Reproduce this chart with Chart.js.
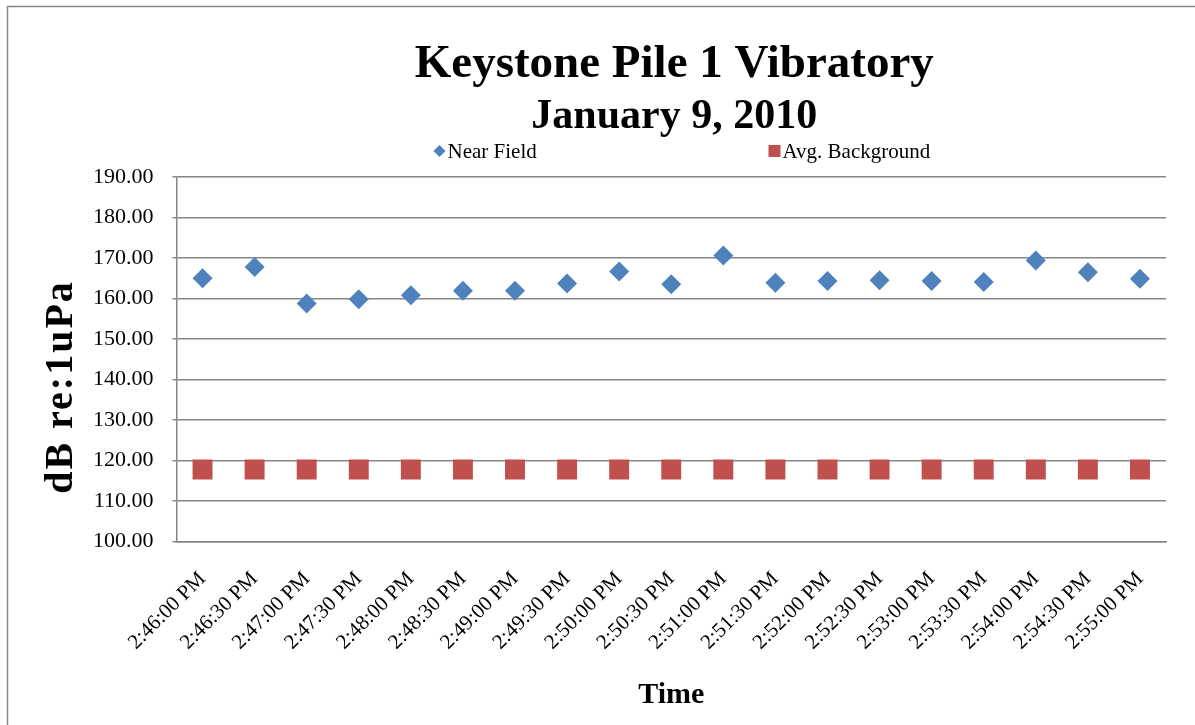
<!DOCTYPE html>
<html>
<head>
<meta charset="utf-8">
<title>Keystone Pile 1 Vibratory</title>
<script src="https://cdn.jsdelivr.net/npm/chart.js@4.4.1/dist/chart.umd.min.js"></script>
<style>
  html, body { margin: 0; padding: 0; background: #fff; }
  .chart-wrap { position: relative; width: 1195px; height: 725px; }
</style>
</head>
<body>
<div class="chart-wrap">
  <canvas id="js-vibration-chart"></canvas>
</div>
<script>
const timeLabels = ['2:46:00 PM', '2:46:30 PM', '2:47:00 PM', '2:47:30 PM', '2:48:00 PM', '2:48:30 PM', '2:49:00 PM', '2:49:30 PM', '2:50:00 PM', '2:50:30 PM', '2:51:00 PM', '2:51:30 PM', '2:52:00 PM', '2:52:30 PM', '2:53:00 PM', '2:53:30 PM', '2:54:00 PM', '2:54:30 PM', '2:55:00 PM'];
const nearField = [165.0, 167.8, 158.8, 159.8, 160.8, 161.9, 161.9, 163.7, 166.7, 163.5, 170.6, 163.9, 164.3, 164.5, 164.3, 164.1, 169.4, 166.5, 164.9];
const avgBackground = [117.8, 117.8, 117.8, 117.8, 117.8, 117.8, 117.8, 117.8, 117.8, 117.8, 117.8, 117.8, 117.8, 117.8, 117.8, 117.8, 117.8, 117.8, 117.8];
const chartTitle = 'Keystone Pile 1 Vibratory';
const chartSubtitle = 'January 9, 2010';
const yAxisTitle = 'dB re:1uPa';

const serif = "'Liberation Serif', 'Times New Roman', serif";
const gridGray = '#868686';
const blue = '#4f81bd';
const red = '#c0504d';

const vibrationCanvas = document.querySelector('#js-vibration-chart');

// frame, titles, y title and legend are drawn by hand, Excel style
const excelLook = {
  id: 'excelLook',
  beforeDraw(chart) {
    const ctx = chart.ctx;
    ctx.save();
    ctx.strokeStyle = gridGray;
    ctx.lineWidth = 1.5;
    ctx.beginPath();
    ctx.moveTo(7.5, chart.height);
    ctx.lineTo(7.5, 6.5);
    ctx.lineTo(chart.width, 6.5);
    ctx.stroke();
    ctx.restore();
  },
  afterDraw(chart) {
    const ctx = chart.ctx;
    const area = chart.chartArea;
    const centerX = (area.left + area.right) / 2 + 3;

    ctx.save();
    ctx.fillStyle = '#000';
    ctx.textAlign = 'center';
    ctx.textBaseline = 'alphabetic';
    ctx.font = 'bold 47px ' + serif;
    ctx.fillText(chartTitle, centerX, 77);
    ctx.font = 'bold 42px ' + serif;
    ctx.fillText(chartSubtitle, centerX, 128);

    // y axis title
    ctx.save();
    ctx.translate(62, area.top + 210);
    ctx.rotate(-Math.PI / 2);
    ctx.textBaseline = 'middle';
    ctx.font = 'bold 40px ' + serif;
    ctx.letterSpacing = '2px';
    ctx.fillText(yAxisTitle, 0, 0);
    ctx.restore();

    ctx.font = '21px ' + serif;
    ctx.textAlign = 'left';
    ctx.textBaseline = 'middle';
    const legendY = 151;
    chart.data.datasets.forEach((ds, i) => {
      const markX = area.left + (i === 0 ? 263 : 598);
      ctx.fillStyle = ds.backgroundColor;
      ctx.beginPath();
      if (ds.pointStyle === 'rectRot') {
        ctx.moveTo(markX, legendY - 6);
        ctx.lineTo(markX + 6, legendY);
        ctx.lineTo(markX, legendY + 6);
        ctx.lineTo(markX - 6, legendY);
      } else {
        ctx.rect(markX - 6, legendY - 6, 12, 12);
      }
      ctx.fill();
      ctx.fillStyle = '#000';
      ctx.fillText(ds.label, markX + 8, legendY + 1);
    });
    ctx.restore();
  }
};

const vibrationData = {
  labels: timeLabels,
  datasets: [{
    label: 'Near Field',
    data: nearField,
    showLine: false,
    pointStyle: 'rectRot',
    pointRadius: 10,
    pointHoverRadius: 10,
    pointBorderWidth: 0,
    backgroundColor: blue,
    borderColor: blue,
  }, {
    label: 'Avg. Background',
    data: avgBackground,
    showLine: false,
    pointStyle: 'rect',
    pointRadius: 14.1,
    pointHoverRadius: 14.1,
    pointBorderWidth: 0,
    backgroundColor: red,
    borderColor: red,
  }]
};

const vibrationConfig = {
  type: 'line',
  data: vibrationData,
  plugins: [excelLook],
  options: {
    responsive: true,
    maintainAspectRatio: false,
    animation: false,
    layout: {
      padding: { top: 177, left: 74, right: 29, bottom: 0 }
    },
    scales: {
      x: {
        offset: true,
        grid: {
          drawOnChartArea: false,
          drawTicks: false,
        },
        border: { color: gridGray, width: 1.5 },
        ticks: {
          color: '#000',
          font: { family: serif, size: 21 },
          minRotation: 45,
          maxRotation: 45,
          padding: 25,
          autoSkip: false,
        },
        title: {
          display: true,
          text: 'Time',
          color: '#000',
          font: { family: serif, size: 30, weight: 'bold', lineHeight: 1 },
          padding: { top: 0, bottom: 15 },
        }
      },
      y: {
        min: 100,
        max: 190,
        grid: {
          color: gridGray,
          lineWidth: 1.5,
          tickLength: 4,
        },
        border: { color: gridGray, width: 1.5 },
        ticks: {
          stepSize: 10,
          color: '#000',
          font: { family: serif, size: 22 },
          padding: 19,
          callback: (value) => value.toFixed(2),
        },
      }
    },
    plugins: {
      legend: { display: false },
      title: { display: false },
      tooltip: { enabled: false },
    }
  }
};

new Chart(vibrationCanvas, vibrationConfig);
</script>
</body>
</html>
